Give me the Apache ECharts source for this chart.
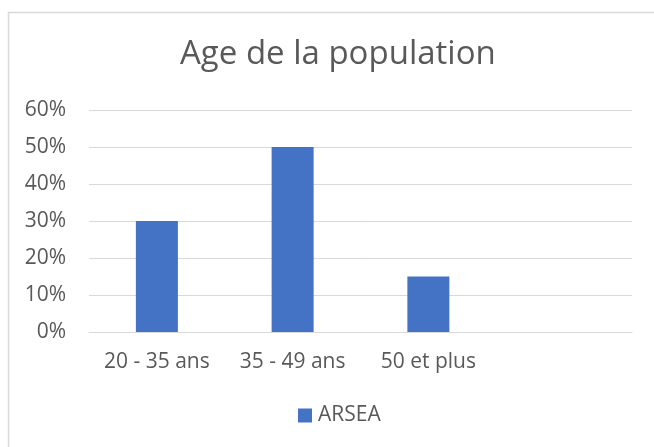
<!DOCTYPE html>
<html>
<head>
<meta charset="utf-8">
<script src="https://cdn.jsdelivr.net/npm/echarts@6/dist/echarts.min.js"></script>
<style>
  html, body { margin: 0; padding: 0; background: #fff; }
  #chart { width: 654px; height: 447px; }
</style>
</head>
<body>
<div id="chart"></div>
<script>
var categories = ['20 - 35 ans', '35 - 49 ans', '50 et plus', '']
var values = [0.30, 0.50, 0.15, null]
var seriesName = 'ARSEA'

var textColor = '#595959'
var font = 'Open Sans'

var myChart = echarts.init(document.getElementById('chart'))
var option = {
    backgroundColor: '#fff',
    animation: false,
    title: {
        text: 'Age de la population',
        left: 175,
        top: 33,
        textStyle: { fontFamily: font, fontSize: 33, fontWeight: 'normal', color: textColor }
    },
    graphic: [{
        type: 'rect',
        shape: { x: 8.5, y: 12.5, width: 800, height: 600 },
        style: { fill: 'none', stroke: '#d9d9d9', lineWidth: 1.5 },
        silent: true
    }],
    legend: {
        top: 405,
        left: 298,
        padding: 0,
        itemWidth: 14,
        itemHeight: 14,
        itemGap: 6,
        icon: 'rect',
        textStyle: { fontFamily: font, fontSize: 21, color: textColor, padding: [0, 0, 0, 1] },
        data: [seriesName]
    },
    grid: { left: 89, right: 22, top: 110, bottom: 115 },
    xAxis: {
        type: 'category',
        data: categories,
        axisTick: { show: false },
        axisLine: { lineStyle: { color: '#d9d9d9', width: 1 } },
        axisLabel: { fontFamily: font, fontSize: 21, color: textColor, margin: 20, interval: 0 }
    },
    yAxis: {
        type: 'value',
        min: 0,
        max: 0.6,
        interval: 0.1,
        axisLine: { show: false },
        axisTick: { show: false },
        splitLine: { lineStyle: { color: '#d9d9d9' } },
        axisLabel: {
            fontFamily: font, fontSize: 21, color: textColor, margin: 23,
            formatter: function (v) { return Math.round(v * 100) + '%' }
        }
    },
    series: [{
        name: seriesName,
        type: 'bar',
        data: values,
        barWidth: 42,
        itemStyle: { color: '#4472c4' }
    }]
}
myChart.setOption(option)
</script>
</body>
</html>
